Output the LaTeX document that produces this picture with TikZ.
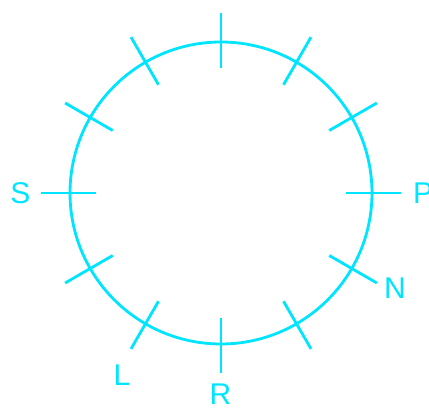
\documentclass[tikz,border=0pt]{standalone}
\usepackage{fontspec}
\setmainfont{Liberation Sans}
\usetikzlibrary{calc}
\definecolor{cy}{RGB}{0,229,255}
\begin{document}
\begin{tikzpicture}[x=1pt,y=-1pt,
  ln/.style={draw=cy,line width=2.8pt},
  lbl/.style={text=cy,inner sep=0pt,font=\fontsize{30}{31}\selectfont}]
\useasboundingbox (0,0) rectangle (429,411);
\coordinate (c) at (221,193);
\draw[ln] (c) circle[radius=151];
\foreach \a in {0,30,...,330}{
  \draw[ln] ($(c)+(\a:125)$) -- ($(c)+(\a:180)$);
}
\node[lbl] (S) at (20.5,193) {S};
\node[lbl,anchor=west] (P) at (413,193) {P};
\node[lbl] (N) at (395,288) {N};
\node[lbl] (L) at (122,375) {L};
\node[lbl] (R) at (220.5,394) {R};
\end{tikzpicture}
\end{document}
